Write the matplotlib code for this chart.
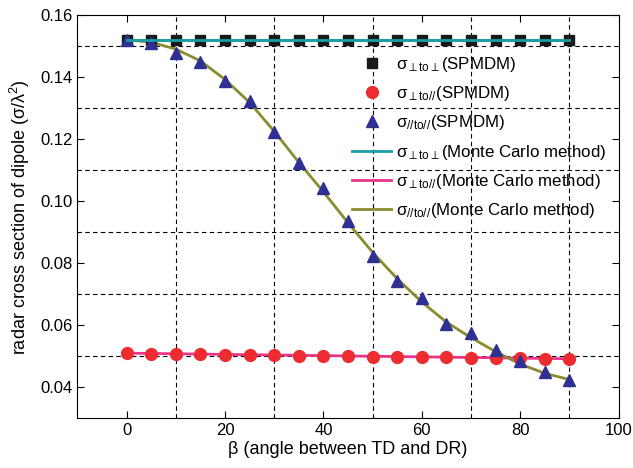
import matplotlib
matplotlib.use('Agg')
import matplotlib.pyplot as plt
from matplotlib.ticker import MultipleLocator

plt.rcParams['font.family'] = ['Liberation Sans', 'DejaVu Sans']
plt.rcParams['mathtext.fontset'] = 'custom'
plt.rcParams['mathtext.rm'] = 'Liberation Sans'
plt.rcParams['mathtext.it'] = 'Liberation Sans:italic'

# ---- data ----
beta = [0, 5, 10, 15, 20, 25, 30, 35, 40, 45, 50, 55, 60, 65, 70, 75, 80, 85, 90]

spm_perp_perp = [0.152] * 19
spm_perp_par = [0.0510, 0.0508, 0.0507, 0.0506, 0.0505, 0.0504, 0.0503, 0.0502, 0.0501, 0.0500,
                0.0499, 0.0498, 0.0497, 0.0496, 0.0495, 0.0494, 0.0493, 0.0492, 0.0491]
spm_par_par = [0.1520, 0.1511, 0.1479, 0.1447, 0.1388, 0.1324, 0.1222, 0.1122, 0.1041, 0.0935,
               0.0823, 0.0743, 0.0688, 0.0605, 0.0576, 0.0521, 0.0484, 0.0448, 0.0423]

mc_perp_perp = [0.152] * 19
mc_perp_par = [0.0510, 0.0509, 0.0508, 0.0507, 0.0506, 0.0505, 0.0504, 0.0503, 0.0502, 0.0501,
               0.0500, 0.0499, 0.0498, 0.0497, 0.0496, 0.0495, 0.0494, 0.0493, 0.0492]
mc_par_par = [0.1520, 0.1512, 0.1490, 0.1452, 0.1392, 0.1318, 0.1225, 0.1125, 0.1030, 0.0930,
              0.0835, 0.0750, 0.0675, 0.0610, 0.0560, 0.0515, 0.0475, 0.0445, 0.0425]

lab_pp = r'σ$_{\perp\mathrm{to}\perp}$'
lab_pl = r'σ$_{\perp\mathrm{to}\mathit{//}}$'
lab_ll = r'σ$_{\mathit{//}\mathrm{to}\mathit{//}}$'

fig = plt.figure(figsize=(6.33, 4.68), dpi=100)
ax = fig.add_axes([0.1224, 0.1062, 0.8547, 0.8618])

# 线在下，点在上
l1, = ax.plot(beta, mc_perp_perp, color='#1a9ea6', linewidth=2, zorder=2)
l2, = ax.plot(beta, mc_perp_par, color='#e8348c', linewidth=2, zorder=2)
l3, = ax.plot(beta, mc_par_par, color='#8b8b30', linewidth=2, zorder=2)

m1, = ax.plot(beta, spm_perp_perp, 's', color='#1a1a1a', markersize=7.5, zorder=3)
m2, = ax.plot(beta, spm_perp_par, 'o', color='#ec2c30', markersize=8.5, zorder=3)
m3, = ax.plot(beta, spm_par_par, '^', color='#2e3192', markersize=9, zorder=3)

ax.plot(beta, mc_perp_perp, color='#1a9ea6', linewidth=2, zorder=4)

ax.set_xlim(-10, 100)
ax.set_ylim(0.03, 0.16)
ax.xaxis.set_major_locator(MultipleLocator(20))
ax.yaxis.set_major_locator(MultipleLocator(0.02))
ax.set_xticks([10, 30, 50, 70, 90], minor=True)
ax.set_yticks([0.05, 0.07, 0.09, 0.11, 0.13, 0.15], minor=True)
ax.yaxis.set_major_formatter(plt.FuncFormatter(lambda v, p: f'{v:.2f}'))
ax.tick_params(which='major', direction='in', top=True, right=True, length=5, labelsize=12)
ax.tick_params(which='minor', length=0)
ax.grid(which='minor', color='black', linestyle=(0, (4, 3)), linewidth=0.8)
ax.set_axisbelow(True)

ax.set_xlabel('β (angle between TD and DR)', fontsize=13, labelpad=2)
ax.set_ylabel(r'radar cross section of dipole (σ/λ$^2$)', fontsize=13, labelpad=6)

ax.legend([m1, m2, m3, l1, l2, l3],
          [lab_pp + '(SPMDM)', lab_pl + '(SPMDM)', lab_ll + '(SPMDM)',
           lab_pp + '(Monte Carlo method)', lab_pl + '(Monte Carlo method)',
           lab_ll + '(Monte Carlo method)'],
          loc='upper right', bbox_to_anchor=(1.0, 0.93), frameon=False, fontsize=12.2,
          handlelength=2.3, handletextpad=0.3, labelspacing=0.6, borderaxespad=0.3)

plt.savefig('out.png', dpi=100)
